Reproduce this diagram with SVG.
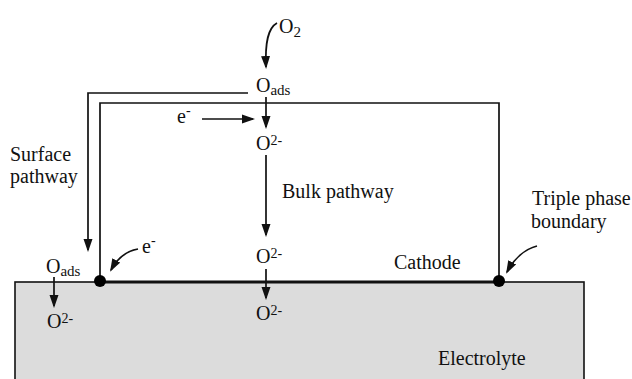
<svg xmlns="http://www.w3.org/2000/svg" width="632" height="379" viewBox="0 0 632 379">
  <defs>
    <style>
      text { font-family: "Liberation Serif", "Times New Roman", serif; font-size: 20px; fill: #111; }
      .sub { font-size: 15px; }
      .sup { font-size: 14px; }
      .ln { fill: none; stroke: #111; stroke-width: 1.7; }
      .arr { fill: none; stroke: #111; stroke-width: 1.7; marker-end: url(#ah); }
      .dot { fill: #000; }
    </style>
    <marker id="ah" markerUnits="userSpaceOnUse" markerWidth="15" markerHeight="11" refX="11" refY="5" orient="auto">
      <path d="M0,0.5 L13,5 L0,9.5 z" fill="#111"/>
    </marker>
  </defs>
  <rect width="632" height="379" fill="#ffffff"/>

  <g id="electrolyte">
    <rect x="15" y="282" width="569" height="110" fill="#dcdcdc" stroke="#111" stroke-width="1.6"/>
    <text x="438" y="365">Electrolyte</text>
  </g>

  <g id="cathode">
    <path class="ln" d="M100,282 L100,103 L499,103 L499,282"/>
    <path d="M100,282 L499,282" stroke="#111" stroke-width="3" fill="none"/>
    <text x="394" y="269">Cathode</text>
  </g>

  <g id="tpb-left">
    <circle class="dot" cx="100" cy="281" r="6"/>
  </g>
  <g id="tpb-right">
    <circle class="dot" cx="499" cy="281" r="6"/>
  </g>

  <g id="connectors">
    <path class="arr" d="M277,23 C268,28 265,42 266,67"/>
    <path class="arr" d="M266,97 L266,127"/>
    <path class="arr" d="M202,119 L253,119"/>
    <path class="arr" d="M266,155 L266,235"/>
    <path class="arr" d="M266,269 L266,298"/>
    <path class="arr" d="M248,93 L88,93 L88,250"/>
    <path class="arr" d="M54,277 L54,306"/>
    <path class="arr" d="M138,249 C126,251 117,259 111,270"/>
    <path class="arr" d="M537,246 C525,249 514,259 507,272"/>
  </g>

  <g id="o2-gas"><text x="279" y="33">O<tspan class="sub" dy="4">2</tspan></text></g>
  <g id="oads-top"><text x="256" y="92">O<tspan class="sub" dy="3">ads</tspan></text></g>
  <g id="e-top"><text x="177" y="123">e<tspan class="sup" dy="-8">-</tspan></text></g>
  <g id="o2minus-top"><text x="256" y="150">O<tspan class="sup" dy="-5">2-</tspan></text></g>
  <g id="bulk-label"><text x="282" y="198">Bulk pathway</text></g>
  <g id="o2minus-mid"><text x="256" y="263">O<tspan class="sup" dy="-5">2-</tspan></text></g>
  <g id="o2minus-bottom"><text x="256" y="320">O<tspan class="sup" dy="-5">2-</tspan></text></g>
  <g id="surface-label"><text x="10" y="161">Surface</text><text x="10" y="183">pathway</text></g>
  <g id="oads-left"><text x="46" y="273">O<tspan class="sub" dy="3">ads</tspan></text></g>
  <g id="o2minus-left"><text x="47" y="328">O<tspan class="sup" dy="-5">2-</tspan></text></g>
  <g id="e-left"><text x="142" y="253">e<tspan class="sup" dy="-8">-</tspan></text></g>
  <g id="tpb-label"><text x="532" y="205">Triple phase</text><text x="531" y="228">boundary</text></g>
</svg>
